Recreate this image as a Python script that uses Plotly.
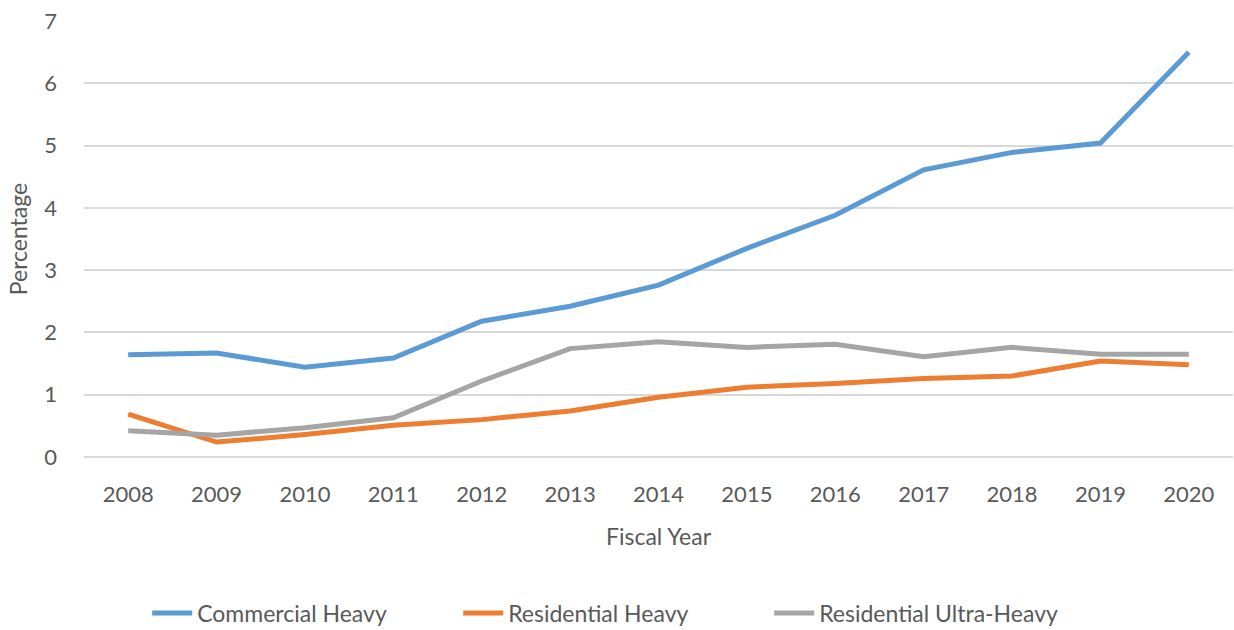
import plotly.graph_objects as go

years = ["2008", "2009", "2010", "2011", "2012", "2013", "2014",
         "2015", "2016", "2017", "2018", "2019", "2020"]
commercial_heavy = [1.64, 1.67, 1.44, 1.59, 2.18, 2.42, 2.76,
                    3.35, 3.88, 4.61, 4.89, 5.04, 6.50]
residential_heavy = [0.69, 0.24, 0.36, 0.51, 0.60, 0.74, 0.96,
                     1.12, 1.18, 1.26, 1.30, 1.54, 1.48]
residential_ultra_heavy = [0.42, 0.35, 0.47, 0.63, 1.22, 1.74, 1.85,
                           1.76, 1.81, 1.61, 1.76, 1.65, 1.65]

series = [
    ("Commercial Heavy", commercial_heavy, "#5B9BD5"),
    ("Residential Heavy", residential_heavy, "#ED7D31"),
    ("Residential Ultra-Heavy", residential_ultra_heavy, "#A5A5A5"),
]

FONT = "Lato, Open Sans, sans-serif"
TEXT = "#595959"

fig = go.Figure()
for name, vals, color in series:
    fig.add_trace(go.Scatter(
        x=years, y=vals, name=name, mode="lines",
        line=dict(color=color, width=5),
    ))

fig.update_layout(
    width=1234, height=630,
    margin=dict(l=84, r=1, t=21, b=173, autoexpand=False),
    paper_bgcolor="white", plot_bgcolor="white",
    font=dict(family=FONT, size=22, color=TEXT),
    showlegend=True,
    legend=dict(
        orientation="h", x=0.055, xanchor="left", xref="paper",
        y=-0.358, yanchor="middle",
        font=dict(family=FONT, size=23, color=TEXT),
        entrywidth=256, entrywidthmode="pixels",
        itemwidth=40, tracegroupgap=0,
    ),
)

fig.update_xaxes(
    type="category", range=[-0.5, 12.5],
    showgrid=False, showline=False, zeroline=False,
    ticks="", ticklabelstandoff=22, automargin=False,
    tickfont=dict(family=FONT, size=22, color=TEXT),
    title=dict(text="Fiscal Year", standoff=22,
               font=dict(family=FONT, size=23, color=TEXT)),
)

fig.update_yaxes(
    range=[0, 7], dtick=1,
    showgrid=True, gridcolor="#D9D9D9", gridwidth=1.5,
    zeroline=True, zerolinecolor="#D9D9D9", zerolinewidth=1.5,
    showline=False, ticks="", ticklabelstandoff=26, automargin=False,
    tickfont=dict(family=FONT, size=22, color=TEXT),
    title=dict(text="Percentage", standoff=10,
               font=dict(family=FONT, size=23, color=TEXT)),
)

fig.write_html("out.html")
